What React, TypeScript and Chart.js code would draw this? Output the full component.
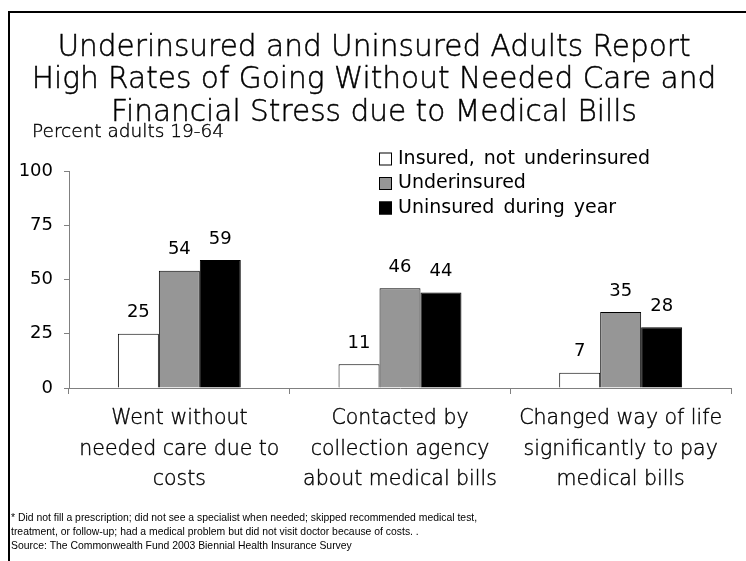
import React, { useEffect, useRef } from "react";
import { Chart, registerables } from "chart.js";

Chart.register(...registerables);

const TITLE_LINES = [
  "Underinsured and Uninsured Adults Report",
  "High Rates of Going Without Needed Care and",
  "Financial Stress due to Medical Bills",
];
const SUBTITLE = "Percent adults 19-64";
const CATEGORIES = [
  ["Went without", "needed care due to", "costs"],
  ["Contacted by", "collection agency", "about medical bills"],
  ["Changed way of life", "significantly to pay", "medical bills"],
];
const SERIES_NAMES = ["Insured, not underinsured", "Underinsured", "Uninsured during year"];
const INSURED = [25, 11, 7];
const UNDERINSURED = [54, 46, 35];
const UNINSURED = [59, 44, 28];
const Y_MIN = 0;
const Y_MAX = 100;
const Y_STEP = 25;
const FOOTNOTES = [
  "* Did not fill a prescription; did not see a specialist when needed; skipped recommended medical test,",
  "treatment, or follow-up; had a medical problem but did not visit doctor because of costs. .",
  "Source: The Commonwealth Fund 2003 Biennial Health Insurance Survey",
];

const COLORS = ["#ffffff", "#969696", "#000000"];
const LIGHT_FONT = "'DejaVu Sans', sans-serif";
const WIDE_FONT = "'DejaVu Sans', Verdana, sans-serif";

function boldish(ctx: CanvasRenderingContext2D, t: string, x: number, y: number) {
  ctx.fillText(t, x, y);
  ctx.strokeText(t, x, y);
}

const decorPlugin = {
  id: "decor",
  afterDraw(chart: any) {
    const ctx = chart.ctx as CanvasRenderingContext2D;
    ctx.save();
    // frame
    ctx.strokeStyle = "#000";
    ctx.lineWidth = 2;
    ctx.beginPath();
    ctx.moveTo(9, 561);
    ctx.lineTo(9, 12);
    ctx.lineTo(746, 12);
    ctx.stroke();

    // title
    ctx.fillStyle = "#000";
    ctx.strokeStyle = "#000";
    ctx.lineWidth = 0.45;
    ctx.textAlign = "center";
    ctx.textBaseline = "middle";
    ctx.font = `200 29.6px ${LIGHT_FONT}`;
    TITLE_LINES.forEach((t, i) => boldish(ctx, t, 374, 48 + i * 32.5));

    // subtitle
    ctx.textAlign = "left";
    ctx.lineWidth = 0.4;
    ctx.font = `200 18.5px ${LIGHT_FONT}`;
    boldish(ctx, SUBTITLE, 32, 132);

    // legend
    const ds = chart.data.datasets;
    ds.forEach((d: any, i: number) => {
      const cy = 159 + i * 24.5;
      ctx.fillStyle = d.backgroundColor;
      ctx.fillRect(379, cy - 6.5, 13, 13);
      ctx.strokeStyle = "#000";
      ctx.lineWidth = 1;
      ctx.strokeRect(379.5, cy - 6, 12, 12);
      ctx.fillStyle = "#000";
      ctx.font = `19px ${WIDE_FONT}`;
      (ctx as any).wordSpacing = "3px";
      ctx.textBaseline = "middle";
      ctx.fillText(d.label, 398, cy);
      (ctx as any).wordSpacing = "0px";
    });

    // value labels
    ctx.textAlign = "center";
    ctx.textBaseline = "middle";
    ctx.font = `18px ${WIDE_FONT}`;
    ctx.fillStyle = "#000";
    ds.forEach((d: any, i: number) => {
      const meta = chart.getDatasetMeta(i);
      meta.data.forEach((bar: any, j: number) => {
        ctx.fillText(String(d.data[j]), bar.x, bar.y - 21);
      });
    });

    // footnotes
    ctx.textAlign = "left";
    ctx.font = `10.4px 'Liberation Sans', Arial, sans-serif`;
    FOOTNOTES.forEach((t, i) => ctx.fillText(t, 11, 518 + i * 14));
    ctx.restore();
  },
};

export default function App() {
  const ref = useRef<HTMLCanvasElement | null>(null);
  useEffect(() => {
    if (!ref.current) return;
    const chart = new Chart(ref.current, {
      type: "bar",
      data: {
        labels: CATEGORIES,
        datasets: [
          { label: SERIES_NAMES[0], data: INSURED, backgroundColor: COLORS[0] },
          { label: SERIES_NAMES[1], data: UNDERINSURED, backgroundColor: COLORS[1] },
          { label: SERIES_NAMES[2], data: UNINSURED, backgroundColor: COLORS[2] },
        ].map((d) => ({ ...d, borderColor: "#000", borderWidth: 1, categoryPercentage: 0.557, barPercentage: 1 })),
      },
      options: {
        responsive: false,
        animation: false,
        devicePixelRatio: 1,
        layout: { padding: { left: 0, top: 171, right: 15, bottom: 0 } },
        plugins: { legend: { display: false }, title: { display: false }, tooltip: { enabled: false } },
        scales: {
          x: {
            afterFit: (s: any) => { s.height = 173; },
            grid: { offset: true, drawOnChartArea: false, tickLength: 6, color: "#808080" },
            border: { color: "#808080", width: 1 },
            ticks: {
              color: "#000",
              textStrokeColor: "#000",
              textStrokeWidth: 0.4,
              padding: 10,
              maxRotation: 0,
              font: { family: LIGHT_FONT, size: 20.5, weight: 200 as any, lineHeight: 1.48 },
            } as any,
          },
          y: {
            min: Y_MIN,
            max: Y_MAX,
            afterFit: (s: any) => { s.width = 69; },
            grid: { drawOnChartArea: false, tickLength: 5, color: "#808080" },
            border: { color: "#808080", width: 1 },
            ticks: { stepSize: Y_STEP, color: "#000", padding: 11, font: { family: WIDE_FONT, size: 18 } },
          },
        },
      },
      plugins: [decorPlugin],
    });
    return () => chart.destroy();
  }, []);
  return (
    <div style={{ position: "absolute", left: 0, top: 0, width: 746, height: 561, background: "#fff" }}>
      <canvas ref={ref} width={746} height={561} style={{ display: "block", width: 746, height: 561 }} />
    </div>
  );
}
